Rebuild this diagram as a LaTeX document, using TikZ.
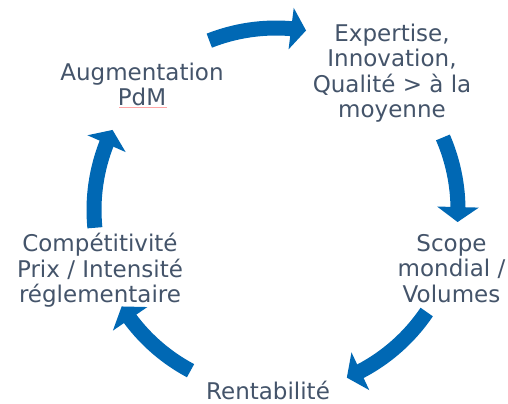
\documentclass[tikz,border=0pt]{standalone}
\usepackage{fontspec}
\setmainfont{DejaVu Sans}
\usetikzlibrary{arrows.meta,bending}
\definecolor{txtc}{RGB}{68,84,106}
\definecolor{arrc}{RGB}{0,104,180}
\begin{document}
\begin{tikzpicture}[x=1bp,y=1bp,
  lbl/.style={inner sep=0pt, align=center, text=txtc,
    font=\fontsize{23bp}{25.5bp}\selectfont},
  cyc/.style={draw=arrc, line width=15bp,
    -{Triangle[length=15bp,width=41bp,flex]}}]
\useasboundingbox (0,0) rectangle (508,403);
\fill[white] (0,0) rectangle (508,403);
\coordinate (C) at (276,193);
\node[lbl, anchor=north] (aug) at (142,340.5) {Augmentation\\PdM};
\node[lbl, anchor=north] (exp) at (392,379.5) {Expertise,\\Innovation,\\Qualité > à la\\moyenne};
\node[lbl, anchor=north] (scope) at (451.5,169) {Scope\\mondial /\\Volumes};
\node[lbl, anchor=north] (comp) at (100,170) {Compétitivité\\Prix / Intensité\\réglementaire};
\node[lbl, anchor=base] (rent) at (268,4) {Rentabilité};
\draw[red!35, line width=0.8bp] (119,296) -- (167,296);
\draw[cyc] ([shift={(111.5:182)}]C) arc[start angle=111.5, end angle=80.5, radius=182];
\draw[cyc] ([shift={(23.5:182)}]C) arc[start angle=23.5, end angle=-3.8, radius=182];
\draw[cyc] ([shift={(-34.1:182)}]C) arc[start angle=-34.1, end angle=-67.1, radius=182];
\draw[cyc] ([shift={(-118:182)}]C) arc[start angle=-118, end angle=-148, radius=182];
\draw[cyc] ([shift={(185.6:182)}]C) arc[start angle=185.6, end angle=153.9, radius=182];
\end{tikzpicture}
\end{document}
